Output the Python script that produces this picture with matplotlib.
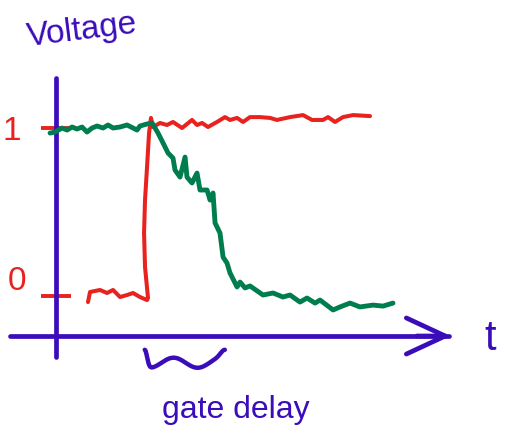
import matplotlib.pyplot as plt
import matplotlib.transforms as mtransforms
import numpy as np

# sketch of a gate's input (red) and output (green) over time
# t in arbitrary units (input edge at t~1), v in logic levels
input_t = [0.295, 0.318, 0.432, 0.511, 0.580, 0.659, 0.739, 0.807, 0.886, 0.966,
           0.977, 0.943, 0.932, 0.943, 0.966, 0.989, 1.011,
           1.034, 1.114, 1.193, 1.261, 1.364, 1.477, 1.534, 1.591, 1.659, 1.761,
           1.852, 1.909, 1.989, 2.057, 2.136, 2.250, 2.364, 2.443, 2.591, 2.739,
           2.841, 2.966, 3.023, 3.102, 3.193, 3.307, 3.500]
input_v = [-0.036, 0.024, 0.036, 0.018, 0.036, -0.006, 0.006, 0.018, -0.006, -0.024,
           -0.012, 0.173, 0.375, 0.571, 0.768, 0.970, 1.060,
           1.006, 1.030, 1.018, 1.036, 1.000, 1.048, 1.018, 1.030, 1.006, 1.036,
           1.065, 1.048, 1.060, 1.036, 1.065, 1.065, 1.060, 1.048, 1.065, 1.077,
           1.048, 1.048, 1.065, 1.036, 1.065, 1.077, 1.071]

output_t = [-0.136, -0.080, 0.000, 0.057, 0.114, 0.170, 0.227, 0.284, 0.341, 0.398,
            0.466, 0.523, 0.580, 0.659, 0.739, 0.807, 0.852, 0.886, 0.966, 1.023,
            1.091, 1.148, 1.205, 1.261, 1.284, 1.341, 1.398, 1.420, 1.477, 1.534,
            1.568, 1.648, 1.682, 1.716, 1.739, 1.795, 1.830, 1.875, 1.909, 1.989,
            2.023, 2.080, 2.136, 2.284, 2.398, 2.511, 2.591, 2.705, 2.784, 2.875,
            2.932, 3.080, 3.159, 3.273, 3.386, 3.534, 3.648, 3.761]
output_v = [0.970, 0.976, 1.000, 0.988, 1.006, 0.994, 1.006, 0.976, 1.000, 1.012,
            1.000, 1.018, 1.000, 1.006, 1.018, 1.000, 0.988, 1.012, 1.024, 1.030,
            0.970, 0.911, 0.851, 0.821, 0.750, 0.708, 0.827, 0.708, 0.673, 0.732,
            0.631, 0.631, 0.571, 0.613, 0.435, 0.375, 0.232, 0.196, 0.137, 0.054,
            0.083, 0.048, 0.060, 0.006, 0.018, -0.006, 0.006, -0.036, -0.012, -0.042,
            -0.024, -0.083, -0.065, -0.042, -0.065, -0.054, -0.060, -0.042]

level_ticks = [0, 1]
level_labels = ["0", "1"]
gate_delay = (0.94, 1.85)

PURPLE = "#3b0cba"
RED = "#e8221e"
GREEN = "#007d4e"
FONT = ["Liberation Sans", "DejaVu Sans"]

fig = plt.figure(figsize=(5.05, 4.40), dpi=100)
ax = fig.add_axes([0, 0, 1, 1])
ax.set_xlim(-0.705, 5.034)
ax.set_ylim(-0.857, 1.762)
ax.patch.set_alpha(0)

axis_v = -0.238
ax.spines["top"].set_visible(False)
ax.spines["right"].set_visible(False)
ax.spines["left"].set_position(("data", -0.07))
ax.spines["bottom"].set_position(("data", axis_v))
ax.spines["left"].set_bounds(-0.363, 1.30)
ax.spines["bottom"].set_bounds(-0.59, 4.40)
for s in ("left", "bottom"):
    ax.spines[s].set_color(PURPLE)
    ax.spines[s].set_linewidth(3.4)
    ax.spines[s].set_capstyle("round")

ax.set_xticks([])
ax.set_yticks(level_ticks)
ax.set_yticklabels(level_labels, fontfamily=FONT, fontsize=24)
ax.tick_params(axis="y", direction="inout", length=22, width=2.8,
               color=RED, labelcolor=RED, pad=14)
# the hand-written "0" sits a little above its tick
lab0 = ax.get_yticklabels()[0]
lab0.set_transform(lab0.get_transform() +
                   mtransforms.ScaledTranslation(4 / 72, 13 / 72, fig.dpi_scale_trans))

# arrow head on the time axis
ax.annotate("", xy=(4.45, axis_v), xytext=(4.0, axis_v),
            arrowprops=dict(arrowstyle="->,head_length=1.4,head_width=0.65",
                            color=PURPLE, lw=3.4, mutation_scale=20))

ax.plot(input_t, input_v, color=RED, lw=2.9,
        solid_capstyle="round", solid_joinstyle="round", zorder=3)
ax.plot(output_t, output_v, color=GREEN, lw=3.5,
        solid_capstyle="round", solid_joinstyle="round", zorder=4)

# wavy brace marking the gate delay
s = np.linspace(0, 1, 200)
env = (1 - np.exp(-(s / 0.04) ** 2)) * (1 - np.exp(-((1 - s) / 0.07) ** 2))
depth = env * (0.72 + 0.28 * np.cos(2 * np.pi * (s - 0.06) / 0.6))
ax.plot(gate_delay[0] + s * (gate_delay[1] - gate_delay[0]), -0.32 - 0.107 * depth,
        color=PURPLE, lw=3.2, solid_capstyle="round")

ax.text(1.97, -0.68, "gate delay", color=PURPLE,
        fontsize=23, fontfamily=FONT, ha="center", va="center")
ax.text(0.23, 1.58, "Voltage", color=PURPLE, fontsize=24, fontfamily=FONT,
        ha="center", va="center", rotation=7)
ax.text(4.87, axis_v - 0.02, "t", color=PURPLE, fontsize=30, fontfamily=FONT,
        ha="center", va="center")

fig.savefig("out.png", dpi=100)
